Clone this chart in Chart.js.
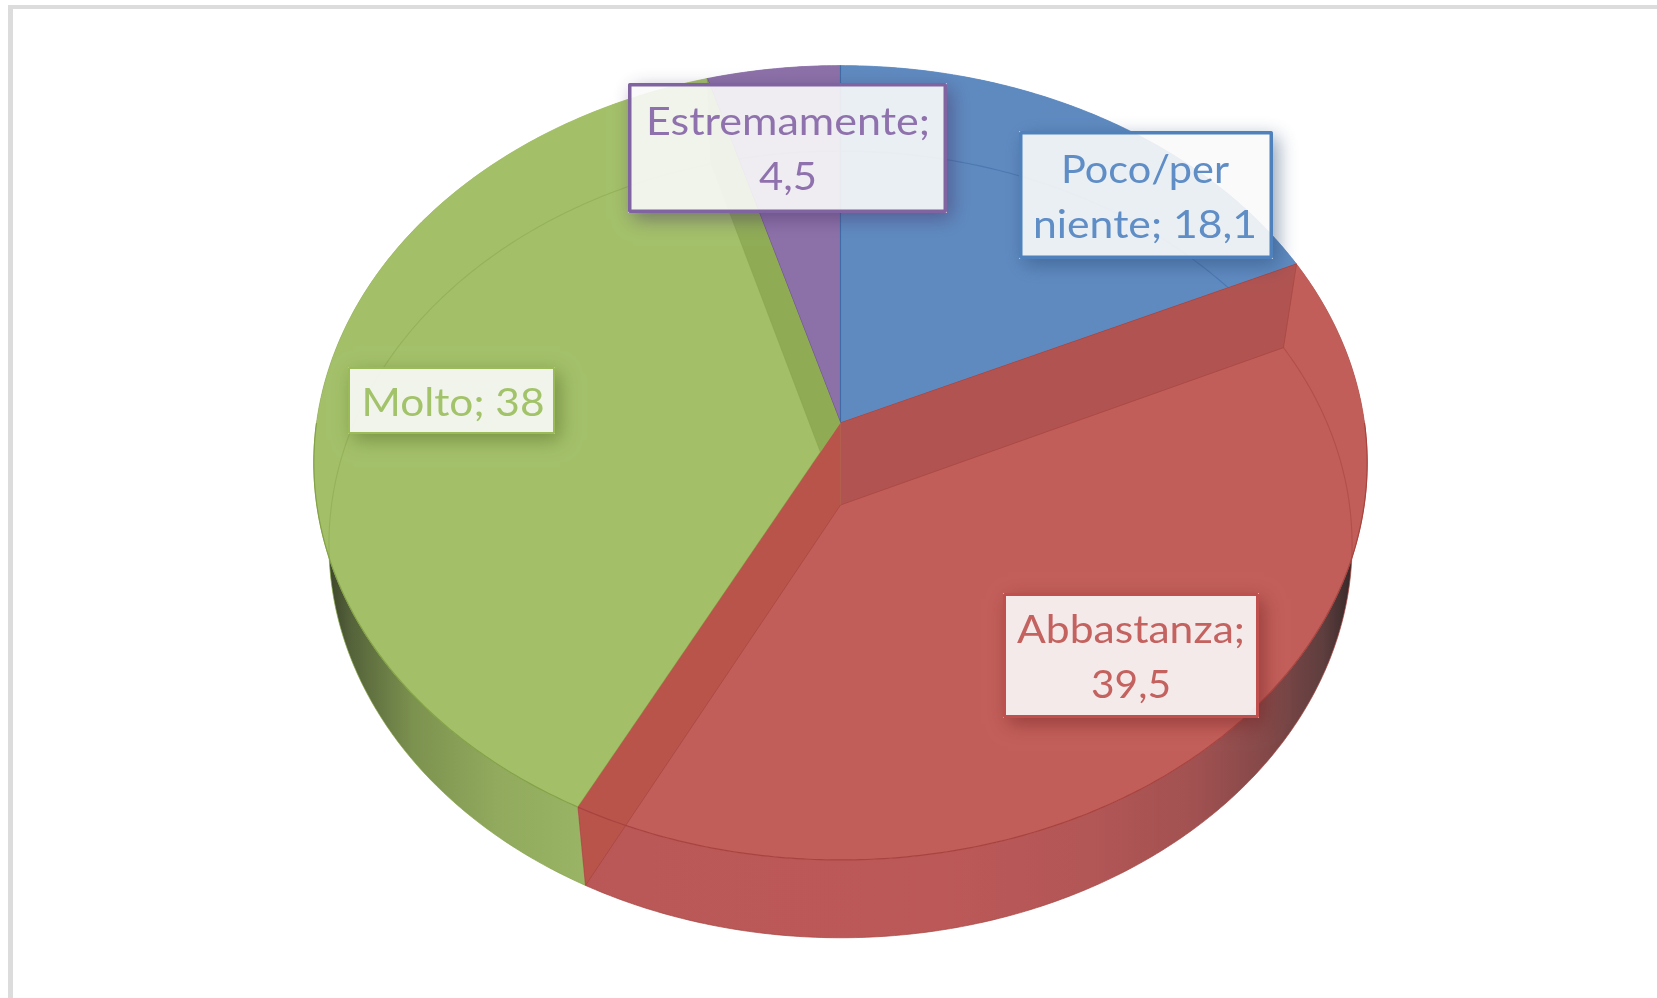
<!DOCTYPE html>
<html><head><meta charset="utf-8">
<script src="https://cdn.jsdelivr.net/npm/chart.js@4"></script>
<style>
html,body{margin:0;padding:0;background:#fff;width:1657px;height:998px;overflow:hidden}
#frame{position:absolute;left:8px;top:5px;right:-10px;bottom:-10px;border-left:5px solid #dcdcdc;border-top:4px solid #dcdcdc}
canvas{position:absolute;left:0;top:0;filter:blur(0.6px)}
</style></head>
<body><div id="frame"></div><canvas id="c" width="1657" height="998"></canvas>
<script>
const categories = ["Poco/per niente", "Abbastanza", "Molto", "Estremamente"];
const values = [18.1, 39.5, 38, 4.5];
const labelLines = [["Poco/per", "niente; 18,1"], ["Abbastanza;", "39,5"], ["Molto; 38"], ["Estremamente;", "4,5"]];
const faceColors = ["#5E8AC0", "#C25E59", "#A3C069", "#8C70A8"];
const edgeColors = ["#3F6CA6", "#A84440", "#84A247", "#6E5290"];
const labelColors = ["#5F8DC6", "#C4625F", "#A2C36A", "#8F72AD"];
const borderColors = ["#4F81BD", "#C0504D", "#9BBB59", "#8064A2"];
const shadowColors = ["rgba(40,70,110,.5)", "rgba(110,30,30,.5)", "rgba(85,110,40,.55)", "rgba(70,50,100,.5)"];

// View geometry of the tilted disc: image of the circle under a perspective map
const topDisc = {cx: 840.5, cy: 423, k: 524, b: 350.8, a: 0.1002};
const botDisc = {cx: 840.5, cy: 505, k: 509, b: 338.8, a: 0.1002};
// Label boxes [left, top, right, bottom], text centre, first baseline, text width per line, border width
const boxes = [
  {r:[1019,131,1273,259], tx:1145, y0:183, w:[168,224], bw:3.5},
  {r:[1003,593,1259,718], tx:1131, y0:643, w:[228,80], bw:3},
  {r:[348,367,555,434],  tx:453,  y0:416, w:[183], bw:2},
  {r:[628,83,947,213],   tx:788,  y0:135, w:[284,58], bw:3.5}
];
const lineGap = 55;

function P(d, ang){
  const u = Math.cos(ang), v = Math.sin(ang), w = 1 - d.a * v;
  return [d.cx + d.k * u / w, (d.cy + d.b * v) / w];
}
function arcPts(d, a0, a1){
  const n = Math.max(2, Math.ceil(Math.abs(a1 - a0) / 0.01)), pts = [];
  for (let i = 0; i <= n; i++) pts.push(P(d, a0 + (a1 - a0) * i / n));
  return pts;
}
function poly(ctx, pts, close){
  ctx.beginPath();
  pts.forEach((p, i) => i ? ctx.lineTo(p[0], p[1]) : ctx.moveTo(p[0], p[1]));
  if (close) ctx.closePath();
}
function wallGradient(ctx, i){
  const g = ctx.createLinearGradient(320, 0, 1360, 0);
  if (i === 2) {
    [[0.005,"#39402A"],[0.03,"#55633A"],[0.09,"#7C924F"],[0.17,"#91AA5D"],[0.26,"#9AB565"],[1,"#9AB565"]]
      .forEach(s => g.addColorStop(s[0], s[1]));
  } else if (i === 1) {
    [[0,"#B85757"],[0.6,"#BC5858"],[0.74,"#B35656"],[0.84,"#A25151"],[0.91,"#844848"],[0.965,"#5E3E3E"],[0.995,"#332626"]]
      .forEach(s => g.addColorStop(s[0], s[1]));
  } else {
    g.addColorStop(0, faceColors[i]); g.addColorStop(1, faceColors[i]);
  }
  return g;
}
const pie3d = {
  id: "pie3d",
  beforeDatasetsDraw(chart){
    const ctx = chart.ctx, arcs = chart.getDatasetMeta(0).data;
    ctx.save();
    ctx.lineJoin = "round";
    // outer walls
    arcs.forEach((el, i) => {
      const t = arcPts(topDisc, el.startAngle, el.endAngle);
      const b = arcPts(botDisc, el.endAngle, el.startAngle);
      poly(ctx, t.concat(b), true);
      ctx.fillStyle = wallGradient(ctx, i);
      ctx.fill();
    });
    // bottom outline
    arcs.forEach((el, i) => {
      poly(ctx, arcPts(botDisc, el.startAngle, el.endAngle));
      ctx.strokeStyle = edgeColors[i]; ctx.globalAlpha = .7; ctx.lineWidth = 1; ctx.stroke();
      ctx.globalAlpha = 1;
    });
    // top faces
    const apex = [topDisc.cx, topDisc.cy], base = [botDisc.cx, botDisc.cy];
    arcs.forEach((el, i) => {
      const t = arcPts(topDisc, el.startAngle, el.endAngle);
      poly(ctx, [apex].concat(t), true);
      ctx.fillStyle = faceColors[i]; ctx.fill();
      ctx.strokeStyle = faceColors[i]; ctx.lineWidth = .8; ctx.stroke();
    });
    // radial slice edges
    arcs.forEach((el, i) => {
      poly(ctx, [apex, P(topDisc, el.startAngle)]);
      ctx.strokeStyle = edgeColors[i]; ctx.lineWidth = 1.1; ctx.stroke();
    });
    // see-through lower rim, per slice
    arcs.forEach((el, i) => {
      ctx.save();
      poly(ctx, [apex].concat(arcPts(topDisc, el.startAngle, el.endAngle)), true);
      ctx.clip();
      poly(ctx, arcPts(botDisc, el.startAngle, el.endAngle));
      ctx.strokeStyle = edgeColors[i]; ctx.globalAlpha = i === 2 ? .45 : .6; ctx.lineWidth = 1.1; ctx.stroke();
      ctx.restore();
    });
    // see-through cut walls (green lies under the red ones)
    const cut = (ang, fill, edge) => {
      const q = [apex, P(topDisc, ang), P(botDisc, ang), base];
      poly(ctx, q, true);
      ctx.fillStyle = fill; ctx.fill();
      ctx.beginPath(); ctx.moveTo(q[3][0], q[3][1]); ctx.lineTo(q[2][0], q[2][1]); ctx.lineTo(q[1][0], q[1][1]);
      ctx.strokeStyle = edge; ctx.lineWidth = 1; ctx.stroke();
    };
    cut(arcs[2].endAngle, "#8FAC55", "rgba(132,162,71,.5)");
    cut(arcs[1].startAngle, "#B05351", "rgba(168,68,64,.7)");
    cut(arcs[1].endAngle, "#B8544A", "rgba(168,68,64,.7)");
    // front rim line of the top face
    arcs.forEach((el, i) => {
      if (i !== 1 && i !== 2) return;
      const a0 = Math.max(el.startAngle, 0), a1 = Math.min(el.endAngle, Math.PI);
      poly(ctx, arcPts(topDisc, a0, a1));
      ctx.strokeStyle = edgeColors[i]; ctx.lineWidth = 1.2; ctx.stroke();
    });
    // data labels
    arcs.forEach((el, i) => {
      const bx = boxes[i], [l, t, r, b] = bx.r, w = r - l, h = b - t;
      ctx.save();
      ctx.beginPath(); ctx.rect(0, 0, 1657, 998); ctx.rect(l, t, w, h); ctx.clip("evenodd");
      ctx.shadowColor = shadowColors[i]; ctx.shadowBlur = 18; ctx.shadowOffsetX = 5; ctx.shadowOffsetY = 6;
      ctx.fillStyle = "#000"; ctx.fillRect(l, t, w, h);
      ctx.restore();
      ctx.fillStyle = "rgba(250,250,250,.9)"; ctx.fillRect(l, t, w, h);
      ctx.strokeStyle = borderColors[i]; ctx.lineWidth = bx.bw;
      ctx.strokeRect(l + bx.bw / 2, t + bx.bw / 2, w - bx.bw, h - bx.bw);
      ctx.fillStyle = labelColors[i];
      ctx.font = '39px Lato, "Open Sans", sans-serif';
      ctx.textAlign = "center"; ctx.textBaseline = "alphabetic";
      labelLines[i].forEach((s, k) => {
        const sx = bx.w[k] / ctx.measureText(s).width;
        ctx.save();
        ctx.translate(bx.tx, bx.y0 + k * lineGap);
        ctx.scale(sx, 1);
        ctx.fillText(s, 0, 0);
        ctx.restore();
      });
    });
    ctx.restore();
    return false;
  }
};
new Chart(document.getElementById("c"), {
  type: "pie",
  data: { labels: categories, datasets: [{ data: values, backgroundColor: faceColors, borderColor: edgeColors }] },
  options: { responsive: false, animation: false, plugins: { legend: {display:false}, tooltip: {enabled:false} } },
  plugins: [pie3d]
});
</script></body></html>
